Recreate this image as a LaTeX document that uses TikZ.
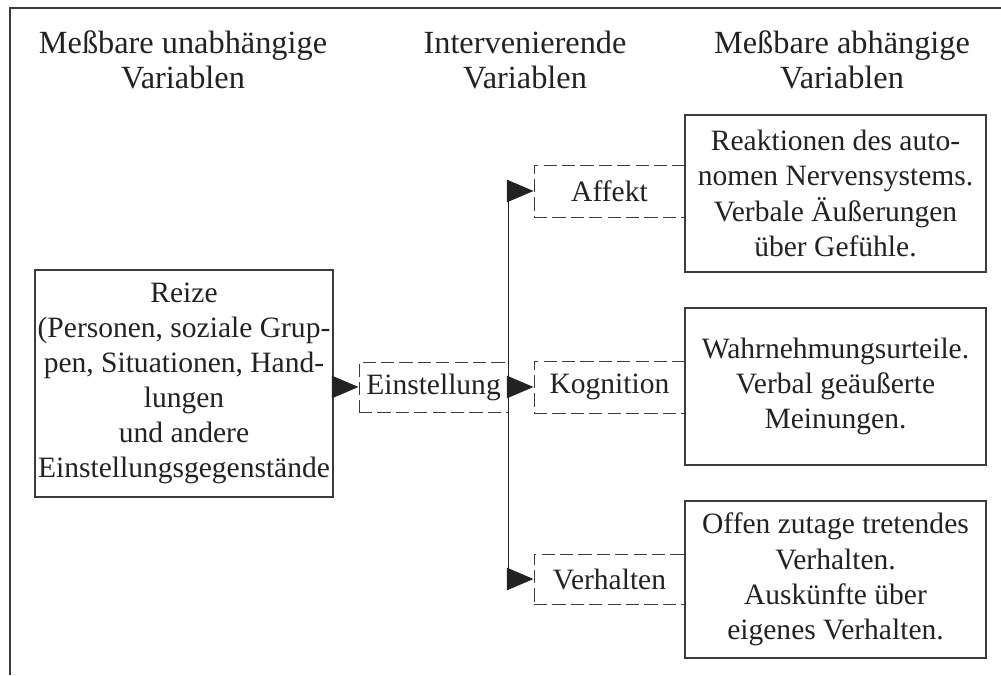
\documentclass[tikz,border=0pt]{standalone}
\usepackage{fontspec}
\setmainfont{Liberation Serif}
\usetikzlibrary{
  arrows.meta,
  positioning
}
\definecolor{inkcolor}{RGB}{34,34,34}
\definecolor{framecolor}{RGB}{60,60,60}

\begin{document}
\begin{tikzpicture}[>={Triangle[length=19pt,width=16pt]},
  font=\fontsize{21}{25}\selectfont, text=inkcolor]

  \tikzset{
    headtxt/.style={align=center, font=\fontsize{23}{25}\selectfont},
    solidbox/.style={
      draw=framecolor, line width=1pt, align=center, inner sep=0pt,
      minimum width=7.525cm
    },
    dashbox/.style={
      draw=framecolor, line width=0.7pt, dash pattern=on 0.33cm off 0.13cm,
      align=center, inner sep=0pt, minimum width=3.775cm, minimum height=1.3cm
    },
    link/.style={->, line width=0.8pt, draw=inkcolor}
  }

  \useasboundingbox (0,0) rectangle (25.025,16.875);

  % ---- outer frame (top and left edge only) ----
  \draw[line width=1.5pt, framecolor] (0.25,0) -- (0.25,16.675) -- (25.025,16.675);

  % ---- column headings ----
  \node[headtxt] (headleft) at (4.575,15.375) {Meßbare unabhängige\\Variablen};
  \node[headtxt] (headmid) at (13.125,15.375) {Intervenierende\\Variablen};
  \node[headtxt] (headright) at (21.05,15.375) {Meßbare abhängige\\Variablen};

  % ---- left column: stimuli ----
  \node[solidbox, minimum width=7.45cm, minimum height=5.675cm] (reize)
    at (4.6,7.2875)
    {Reize\\(Personen, soziale Grup-\\pen, Situationen, Hand-\\lungen\\und andere\\Einstellungsgegenstände};

  % ---- middle column: intervening variables ----
  \node[dashbox, minimum width=3.725cm, minimum height=1.25cm] (einst)
    at (10.8375,7.2) {Einstellung};

  \node[dashbox] (affekt) at (15.2375,12.1) {Affekt};
  \node[dashbox] (kogn) at (15.2375,7.2) {Kognition};
  \node[dashbox, minimum height=1.25cm] (verh) at (15.2375,2.4) {Verhalten};

  % ---- right column: measurable responses ----
  \node[solidbox, minimum height=3.925cm] (reakt) at (20.8875,12.0375)
    {Reaktionen des auto-\\nomen Nervensystems.\\Verbale Äußerungen\\über Gefühle.};
  \node[solidbox, minimum height=3.925cm] (wahrn) at (20.8875,7.2125)
    {Wahrnehmungsurteile.\\Verbal geäußerte\\Meinungen.};
  \node[solidbox, minimum height=3.925cm] (offen) at (20.8875,2.3875)
    {Offen zutage tretendes\\Verhalten.\\Auskünfte über\\eigenes Verhalten.};

  % ---- connectors ----
  \draw[link] (reize.east |- einst.west) -- (einst.west);
  \draw[link] (einst.east) |- (affekt.west);
  \draw[link] (einst.east) -- (kogn.west);
  \draw[link] (einst.east) |- (verh.west);

\end{tikzpicture}
\end{document}
